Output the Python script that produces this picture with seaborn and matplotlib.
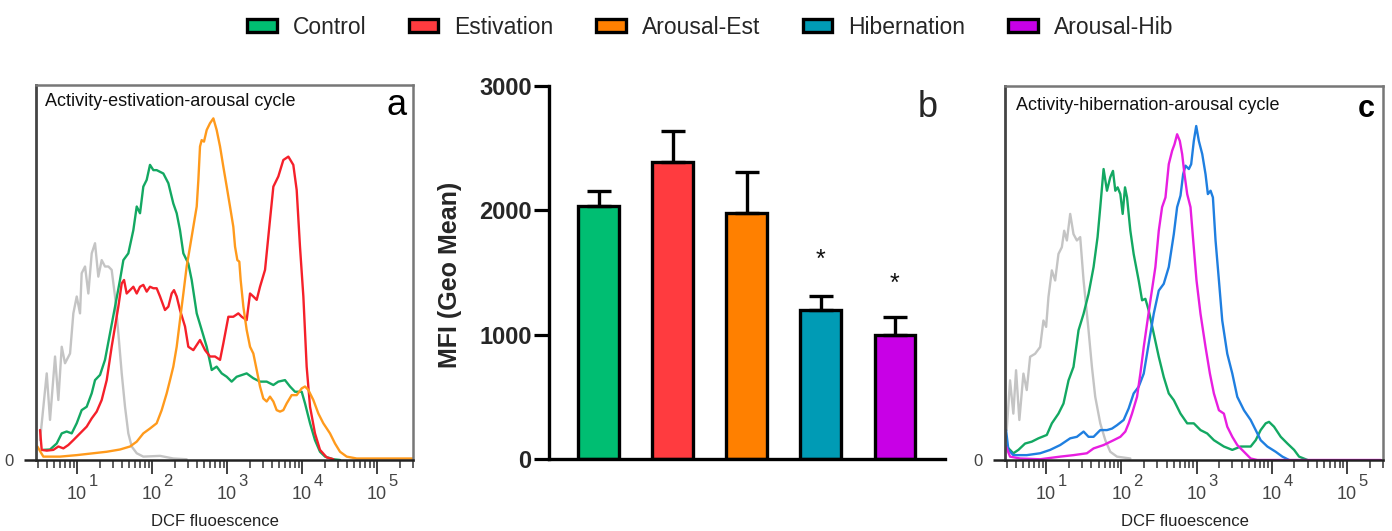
import numpy as np
import pandas as pd
import matplotlib
matplotlib.use("Agg")
import matplotlib.pyplot as plt
import matplotlib.transforms as mtrans
from matplotlib.patches import Patch
from matplotlib.ticker import LogLocator, NullFormatter
import seaborn as sns

# ---------------- data ----------------
groups = ["Control", "Estivation", "Arousal-Est", "Hibernation", "Arousal-Hib"]
mfi = [2035, 2385, 1980, 1195, 1000]
mfi_err = [123, 255, 332, 118, 139]
bar_colors = ["#00be72", "#ff3b3f", "#ff8000", "#009bb5", "#c800e6"]
stars = ["", "", "", "*", "*"]
star_y = [0, 0, 0, 1600, 1405]

decade_exp = [1, 2, 3, 4, 5]
decade_base = ["10", "10", "10", "10", "10"]
decade_sup = ["1", "2", "3", "4", "5"]

# panel a histograms (log10 DCF fluorescence, % of max)
a_unst_lx = [0.507, 0.596, 0.64, 0.707, 0.751, 0.796, 0.84, 0.907, 0.951, 0.996, 1.04, 1.062, 1.107, 1.151, 1.196, 1.24,
             1.284, 1.329, 1.373, 1.418, 1.462, 1.507, 1.551, 1.596, 1.64, 1.684, 1.729, 1.796, 1.884, 2.107, 2.284, 2.462]
a_unst_h = [5.3, 23.1, 10.7, 27.6, 16.0, 30.2, 25.8, 28.4, 39.1, 43.6, 39.1, 49.8, 51.6, 44.4, 55.1, 57.8,
            48.9, 53.3, 51.6, 51.6, 50.7, 43.6, 33.8, 23.1, 14.2, 7.1, 3.6, 1.8, 0.9, 1.1, 0.4, 0.2]

a_ctrl_lx = [0.551, 0.64, 0.729, 0.796, 0.862, 0.929, 0.996, 1.062, 1.129, 1.196, 1.24, 1.307, 1.373, 1.44, 1.507, 1.573,
             1.618, 1.684, 1.751, 1.796, 1.84, 1.884, 1.929, 1.973, 2.018, 2.062, 2.151, 2.218, 2.284, 2.329, 2.373,
             2.418, 2.484, 2.529, 2.596, 2.662, 2.729, 2.796, 2.862, 2.929, 2.996, 3.062, 3.129, 3.262, 3.351, 3.44,
             3.529, 3.618, 3.684, 3.773, 3.84, 3.907, 3.996, 4.04, 4.107, 4.173, 4.24, 4.307, 4.418, 4.507]
a_ctrl_h = [2.7, 2.8, 4.4, 7.1, 7.6, 7.1, 9.8, 13.3, 14.2, 17.8, 21.3, 22.7, 26.7, 33.8, 40.9, 48.0,
            53.3, 55.1, 61.3, 67.6, 65.8, 72.9, 74.7, 78.7, 77.3, 77.3, 76.4, 73.8, 68.4, 65.8, 61.3,
            55.1, 52.4, 48.0, 39.1, 34.7, 30.2, 24.0, 24.9, 23.1, 22.2, 20.9, 22.2, 23.1, 21.8, 20.9,
            20.9, 20.0, 20.9, 21.3, 19.6, 18.2, 18.2, 15.1, 9.8, 5.3, 2.2, 0.9, 0.2, 0.0]

a_est_lx = [0.507, 0.529, 0.596, 0.684, 0.751, 0.818, 0.884, 0.951, 1.04, 1.129, 1.196, 1.262, 1.329, 1.396, 1.462,
            1.507, 1.551, 1.596, 1.627, 1.662, 1.707, 1.751, 1.796, 1.84, 1.884, 1.929, 1.973, 2.018, 2.062, 2.107,
            2.173, 2.218, 2.262, 2.293, 2.329, 2.373, 2.44, 2.484, 2.551, 2.64, 2.707, 2.773, 2.84, 2.907, 2.951,
            3.018, 3.084, 3.151, 3.196, 3.262, 3.307, 3.351, 3.396, 3.44, 3.507, 3.573, 3.618, 3.684, 3.751, 3.818,
            3.884, 3.929, 3.973, 4.018, 4.062, 4.107, 4.173, 4.24, 4.329, 4.418]
a_est_h = [8.0, 2.7, 2.5, 2.7, 3.6, 3.1, 4.0, 5.3, 7.1, 8.9, 11.1, 12.9, 16.0, 21.3, 30.2,
           35.6, 40.9, 47.1, 48.0, 44.4, 45.3, 46.2, 44.4, 46.2, 46.7, 44.9, 46.2, 45.8, 45.8, 43.6,
           40.0, 40.9, 44.4, 45.3, 43.6, 40.0, 35.6, 30.2, 29.3, 32.0, 29.3, 27.6, 27.6, 26.7, 31.1,
           38.2, 38.2, 39.1, 38.2, 37.3, 44.4, 43.6, 42.7, 46.2, 50.7, 64.0, 72.9, 75.6, 80.0, 80.9,
           78.7, 72.0, 56.9, 43.6, 24.9, 14.2, 7.1, 2.7, 0.7, 0.2]

a_aro_lx = [0.471, 0.551, 0.773, 0.996, 1.218, 1.396, 1.573, 1.707, 1.796, 1.884, 1.973, 2.062, 2.129, 2.196, 2.24,
            2.284, 2.329, 2.373, 2.418, 2.462, 2.507, 2.551, 2.596, 2.618, 2.64, 2.662, 2.693, 2.729, 2.773, 2.818,
            2.862, 2.907, 2.951, 2.996, 3.04, 3.084, 3.107, 3.138, 3.164, 3.182, 3.218, 3.262, 3.307, 3.351, 3.396,
            3.44, 3.484, 3.529, 3.573, 3.618, 3.662, 3.707, 3.751, 3.796, 3.862, 3.929, 3.996, 4.04, 4.084, 4.151,
            4.218, 4.284, 4.373, 4.44, 4.507, 4.596, 4.729, 5.484]
a_aro_h = [3.6, 0.9, 0.9, 1.3, 1.8, 2.2, 2.8, 3.6, 4.9, 7.1, 8.4, 9.8, 13.3, 17.8, 21.3,
           24.9, 30.2, 37.3, 44.4, 51.6, 56.9, 62.2, 67.6, 74.7, 83.6, 85.3, 84.9, 88.0, 89.8, 91.1,
           88.0, 83.6, 78.2, 72.9, 67.6, 62.2, 56.9, 53.3, 52.9, 48.0, 40.9, 34.7, 30.2, 28.4, 24.0,
           19.6, 16.4, 15.6, 16.9, 15.6, 13.3, 12.9, 13.3, 15.1, 17.3, 17.3, 19.1, 19.6, 18.7, 16.0,
           12.4, 9.8, 7.1, 4.4, 2.2, 0.9, 0.4, 0.4]

# panel c histograms
c_unst_lx = [0.476, 0.52, 0.564, 0.6, 0.644, 0.698, 0.742, 0.787, 0.853, 0.92, 0.964, 1.0, 1.031, 1.076, 1.12, 1.164,
             1.209, 1.24, 1.276, 1.32, 1.364, 1.409, 1.453, 1.498, 1.564, 1.609, 1.653, 1.72, 1.787, 1.853, 1.942, 2.12]
c_unst_h = [8.0, 21.3, 12.4, 24.0, 10.7, 23.1, 18.7, 27.6, 28.4, 30.2, 37.3, 35.6, 43.6, 50.7, 48.0, 55.1,
            56.9, 61.3, 58.7, 65.8, 60.4, 58.7, 59.6, 48.0, 34.7, 24.9, 16.9, 9.8, 5.3, 2.2, 0.9, 0.4]

c_ctrl_lx = [0.476, 0.564, 0.631, 0.72, 0.809, 0.898, 1.009, 1.076, 1.164, 1.231, 1.298, 1.364, 1.431, 1.498, 1.564,
             1.631, 1.684, 1.72, 1.764, 1.809, 1.853, 1.889, 1.92, 1.951, 1.987, 2.018, 2.049, 2.076, 2.12, 2.164,
             2.231, 2.276, 2.32, 2.364, 2.431, 2.498, 2.564, 2.631, 2.698, 2.787, 2.876, 2.964, 3.053, 3.142, 3.231,
             3.364, 3.476, 3.587, 3.72, 3.787, 3.853, 3.92, 3.964, 4.031, 4.12, 4.209, 4.298, 4.364, 4.476]
c_ctrl_h = [3.6, 1.8, 2.7, 4.4, 4.9, 5.8, 6.7, 9.8, 12.4, 15.1, 21.3, 24.9, 34.7, 39.1, 44.4,
            51.6, 59.6, 67.6, 77.8, 72.0, 75.6, 77.3, 72.0, 72.9, 71.1, 65.8, 72.9, 70.2, 61.3, 55.1,
            48.0, 42.7, 43.1, 40.0, 33.8, 27.6, 22.2, 17.8, 16.0, 12.4, 9.8, 9.8, 8.0, 7.1, 5.3,
            3.6, 2.7, 3.6, 3.6, 5.3, 8.0, 9.8, 10.2, 8.9, 6.2, 4.4, 2.7, 0.9, 0.0]

c_hib_lx = [0.467, 0.498, 0.564, 0.742, 0.92, 1.053, 1.187, 1.32, 1.409, 1.498, 1.564, 1.631, 1.72, 1.809, 1.876,
            1.942, 2.031, 2.098, 2.164, 2.231, 2.298, 2.364, 2.431, 2.498, 2.564, 2.631, 2.698, 2.742, 2.787, 2.822,
            2.853, 2.898, 2.929, 2.964, 2.996, 3.031, 3.076, 3.12, 3.151, 3.187, 3.218, 3.253, 3.298, 3.342, 3.409,
            3.476, 3.542, 3.631, 3.72, 3.787, 3.853, 3.942, 4.053, 4.142, 4.231]
c_hib_h = [8.0, 2.7, 1.3, 1.3, 1.8, 2.7, 4.0, 5.8, 6.2, 7.6, 6.2, 6.2, 8.0, 8.0, 8.4,
           9.3, 10.7, 13.8, 17.8, 19.6, 23.1, 31.1, 39.1, 45.3, 47.1, 51.6, 60.4, 67.6, 70.7, 76.4,
           78.7, 77.8, 79.1, 85.3, 89.3, 85.3, 81.8, 76.4, 71.1, 72.0, 70.2, 58.7, 48.0, 37.3, 28.4,
           23.1, 16.9, 13.3, 10.7, 8.0, 5.3, 3.6, 2.2, 0.9, 0.0]

c_aro_lx = [0.467, 0.52, 0.653, 0.92, 1.187, 1.364, 1.542, 1.631, 1.764, 1.898, 1.987, 2.053, 2.098, 2.142, 2.209,
            2.253, 2.298, 2.342, 2.387, 2.453, 2.498, 2.542, 2.587, 2.631, 2.676, 2.707, 2.742, 2.778, 2.809, 2.84,
            2.876, 2.92, 2.956, 3.0, 3.053, 3.12, 3.178, 3.231, 3.298, 3.364, 3.409, 3.476, 3.542, 3.631, 3.72,
            3.809, 5.453]
c_aro_h = [3.6, 0.9, 0.4, 0.2, 0.9, 1.3, 1.8, 3.1, 4.0, 5.3, 6.2, 7.6, 9.8, 12.4, 16.9,
           23.1, 30.2, 36.4, 42.7, 51.6, 61.3, 67.6, 70.2, 79.1, 82.7, 84.4, 87.1, 85.3, 81.8, 76.4,
           71.1, 67.6, 58.7, 48.0, 39.1, 30.2, 23.1, 17.8, 13.3, 12.4, 8.9, 6.2, 4.0, 2.2, 0.4,
           0.0, 0.0]

# ---------------- style ----------------
sns.set_style("white")
plt.rcParams["font.family"] = ["Liberation Sans", "DejaVu Sans"]

W, H = 1392, 531
fig = plt.figure(figsize=(W / 100, H / 100), dpi=100)


def px_axes(l, t, r, b):
    return fig.add_axes([l / W, 1 - b / H, (r - l) / W, (b - t) / H])


LX_MIN, LX_MAX = 0.453, 5.48


def flow_panel(ax, curves, title, letter, letter_bold, letter_size, title_xy, letter_xy):
    ax.set_xscale("log")
    for lx, h, col in curves:
        sns.lineplot(x=np.power(10.0, lx), y=h, ax=ax, color=col, linewidth=1.7,
                     estimator=None, sort=False)
    ax.set_xlim(10 ** LX_MIN, 10 ** LX_MAX)
    ax.set_ylim(0, 100)
    ax.set_xticks([10.0 ** d for d in decade_exp])
    ax.set_xticklabels(decade_base)
    ax.xaxis.set_minor_locator(LogLocator(base=10, subs=np.arange(2, 10)))
    ax.xaxis.set_minor_formatter(NullFormatter())
    ax.tick_params(axis="x", which="major", bottom=True, length=10, width=1.3, color="#333333",
                   labelsize=13, labelcolor="#444444", pad=8.5)
    ax.tick_params(axis="x", which="minor", bottom=True, length=6, width=1.1, color="#333333")
    ax.set_yticks([0])
    ax.set_yticklabels(["0"])
    ax.tick_params(axis="y", left=True, length=9, width=1.8, color="#222222",
                   labelsize=12, labelcolor="#444444", pad=7)
    for sp, c, w in [("left", "#444444", 2.0), ("bottom", "#222222", 1.8),
                     ("top", "#777777", 1.8), ("right", "#777777", 1.8)]:
        ax.spines[sp].set_visible(True)
        ax.spines[sp].set_color(c)
        ax.spines[sp].set_linewidth(w)
    for d, s in zip(decade_exp, decade_sup):
        tr = mtrans.blended_transform_factory(ax.transData, ax.transAxes) + \
            mtrans.ScaledTranslation(0.115, -0.255, fig.dpi_scale_trans)
        ax.text(10.0 ** d, 0, s, transform=tr, ha="left", va="baseline", fontsize=12,
                color="#444444", clip_on=False)
    ax.text(title_xy[0], title_xy[1], title, transform=ax.transAxes, ha="left", va="center",
            fontsize=13, color="#111111")
    ax.text(letter_xy[0], letter_xy[1], letter, transform=ax.transAxes, ha="right", va="baseline",
            fontsize=letter_size, fontweight="bold" if letter_bold else "normal", color="black")
    ax.text(0.475, -0.165, "DCF fluoescence", transform=ax.transAxes, ha="center", va="center",
            fontsize=12, color="#222222", clip_on=False)
    ax.set_xlabel("")
    ax.set_ylabel("")


# panel a
ax_a = px_axes(36, 85, 413, 460)
flow_panel(ax_a,
           [(a_unst_lx, a_unst_h, "#c4c4c4"), (a_ctrl_lx, a_ctrl_h, "#13a862"),
            (a_est_lx, a_est_h, "#f5202a"), (a_aro_lx, a_aro_h, "#ff9a1c")],
           "Activity-estivation-arousal cycle", "a", False, 26, (0.024, 0.955), (0.984, 0.92))

# panel c
ax_c = px_axes(1005, 86, 1383, 460)
flow_panel(ax_c,
           [(c_unst_lx, c_unst_h, "#c4c4c4"), (c_ctrl_lx, c_ctrl_h, "#13a862"),
            (c_hib_lx, c_hib_h, "#1f7fe0"), (c_aro_lx, c_aro_h, "#e81ee0")],
           "Activity-hibernation-arousal cycle", "c", True, 22, (0.029, 0.949), (0.979, 0.917))

# panel b
ax_b = px_axes(549, 86, 945, 459)
dfb = pd.DataFrame({"group": groups, "mfi": mfi})
sns.barplot(data=dfb, x="group", y="mfi", hue="group", palette=bar_colors, legend=False,
            edgecolor="black", linewidth=2.4, width=0.55, errorbar=None, saturation=1, ax=ax_b)
xpos = np.arange(len(groups))
ax_b.errorbar(xpos, mfi, yerr=[np.zeros(len(groups)), mfi_err], fmt="none", ecolor="black",
              elinewidth=2.4, capsize=8.5, capthick=2.4, zorder=1)
for x, s, y in zip(xpos, stars, star_y):
    if s:
        ax_b.text(x, y, s, ha="center", va="center", fontsize=18, color="#111111")
ax_b.set_xlim(-0.668, 4.676)
ax_b.set_ylim(0, 3000)
ax_b.set_xticks([])
ax_b.set_yticks([0, 1000, 2000, 3000])
ax_b.set_yticklabels(["0", "1000", "2000", "3000"], fontweight="bold")
ax_b.tick_params(axis="y", left=True, length=11, width=2.3, color="black", labelsize=17, pad=1.5)
for sp in ["top", "right"]:
    ax_b.spines[sp].set_visible(False)
for sp in ["left", "bottom"]:
    ax_b.spines[sp].set_visible(True)
    ax_b.spines[sp].set_color("black")
    ax_b.spines[sp].set_linewidth(2.4)
ax_b.set_xlabel("")
ax_b.set_ylabel("")
ax_b.text(-0.249, 0.493, "MFI (Geo Mean)", transform=ax_b.transAxes, rotation=90, ha="center",
          va="center", fontsize=18, fontweight="bold", clip_on=False)
ax_b.text(0.982, 0.917, "b", transform=ax_b.transAxes, ha="right", va="baseline", fontsize=26)

# legend
handles = [Patch(facecolor=c, edgecolor="black", linewidth=2.4, label=g) for g, c in zip(groups, bar_colors)]
fig.legend(handles=handles, loc="center", bbox_to_anchor=(710 / W, 1 - 27 / H), ncol=5, frameon=False,
           fontsize=16.5, handlelength=1.3, handleheight=0.5, handletextpad=0.7, columnspacing=1.85,
           borderpad=0, borderaxespad=0)

fig.savefig("out.png", dpi=100)
